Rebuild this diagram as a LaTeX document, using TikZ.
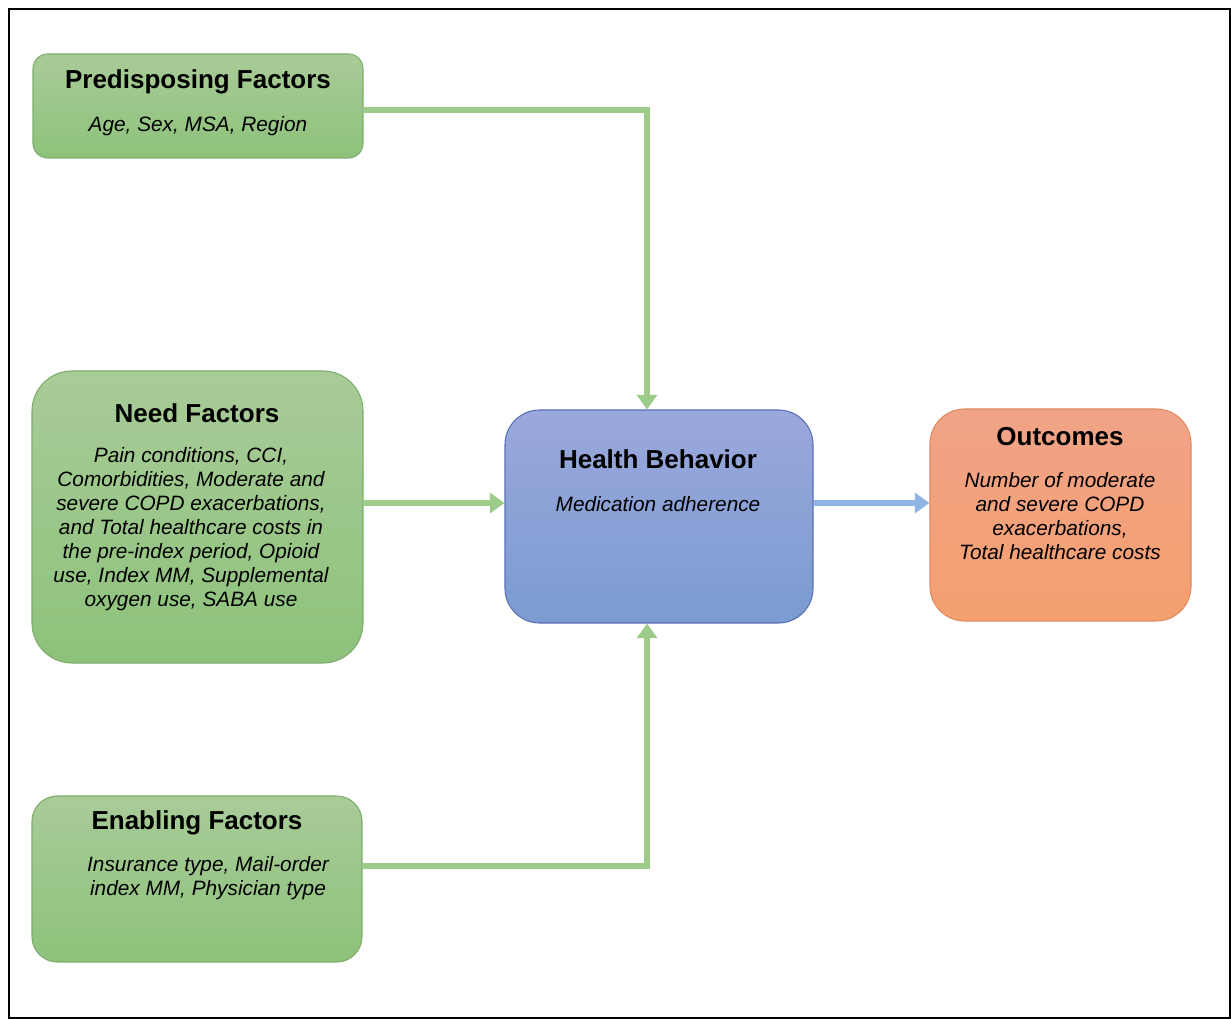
\documentclass[tikz,border=0pt]{standalone}
\usepackage{fontspec}
\setmainfont{Liberation Sans}
\usetikzlibrary{arrows.meta}
\definecolor{gtop}{HTML}{A9CB98}
\definecolor{gbot}{HTML}{8DC27B}
\definecolor{gline}{HTML}{7DAE6C}
\definecolor{btop}{HTML}{9BA8DC}
\definecolor{bbot}{HTML}{7A9BD1}
\definecolor{bline}{HTML}{5A70B5}
\definecolor{otop}{HTML}{F1A388}
\definecolor{obot}{HTML}{F5A06F}
\definecolor{oline}{HTML}{DE8A62}
\definecolor{garrow}{HTML}{9CCB8A}
\definecolor{barrow}{HTML}{8EB5E3}
\begin{document}
\begin{tikzpicture}[x=0.75pt,y=-0.75pt,
  gbox/.style={draw=gline, line width=0.8pt, top color=gtop, bottom color=gbot, inner sep=0pt},
  bbox/.style={draw=bline, line width=0.8pt, top color=btop, bottom color=bbot, inner sep=0pt},
  obox/.style={draw=oline, line width=0.8pt, top color=otop, bottom color=obot, inner sep=0pt},
  ttl/.style={font=\fontsize{19.5}{23}\selectfont\bfseries, inner sep=0pt},
  bdy/.style={font=\fontsize{15.6}{18}\selectfont\itshape, align=center, inner sep=0pt},
  gconn/.style={draw=garrow, line width=3.8pt, -{Triangle[width=15pt,length=11pt]}},
  bconn/.style={draw=barrow, line width=3.8pt, -{Triangle[width=15pt,length=11pt]}}]
\useasboundingbox (0,0) rectangle (1231,1019);
\fill[white] (0,0) rectangle (1231,1019);
\draw[line width=1.8pt] (9,9) rectangle (1230,1018);

\node[gbox, rounded corners=11pt, minimum width=247.5pt, minimum height=78pt] (pred) at (198,106) {};
\node[gbox, rounded corners=30pt, minimum width=248.25pt, minimum height=219pt] (need) at (197.5,517) {};
\node[gbox, rounded corners=19pt, minimum width=247.5pt, minimum height=124.5pt] (enab) at (197,879) {};
\node[bbox, rounded corners=26pt, minimum width=231pt, minimum height=159.75pt] (hb) at (659,516.5) {};
\node[obox, rounded corners=26pt, minimum width=195.75pt, minimum height=159pt] (out) at (1060.5,515) {};

\node[ttl] (predT) at (198,81.5) {Predisposing Factors};
\node[bdy] (predB) at (198,126) {Age, Sex, MSA, Region};
\node[ttl] (needT) at (197,413.5) {Need Factors};
\node[bdy] (needB) at (191,529) {Pain conditions, CCI,\\Comorbidities, Moderate and\\severe COPD exacerbations,\\and Total healthcare costs in\\the pre-index period, Opioid\\use, Index MM, Supplemental\\oxygen use, SABA use};
\node[ttl] (enabT) at (197,822.5) {Enabling Factors};
\node[bdy] (enabB) at (208,878) {Insurance type, Mail-order\\index MM, Physician type};
\node[ttl] (hbT) at (658,459.5) {Health Behavior};
\node[bdy] (hbB) at (658,504) {Medication adherence};
\node[ttl] (outT) at (1060,436.5) {Outcomes};
\node[bdy] (outB) at (1060,516) {Number of moderate\\and severe COPD\\exacerbations,\\Total healthcare costs};

\coordinate (p1) at (647,110);
\coordinate (n1) at (505,503);
\coordinate (e1) at (647,866);
\coordinate (o1) at (930,503);

\draw[gconn] (pred.east |- p1) -- (p1) -- (p1 |- hb.north);
\draw[gconn] (need.east |- n1) -- (hb.west |- n1);
\draw[gconn] (enab.east |- e1) -- (e1) -- (e1 |- hb.south);
\draw[bconn] (hb.east |- o1) -- (out.west |- o1);
\end{tikzpicture}
\end{document}
